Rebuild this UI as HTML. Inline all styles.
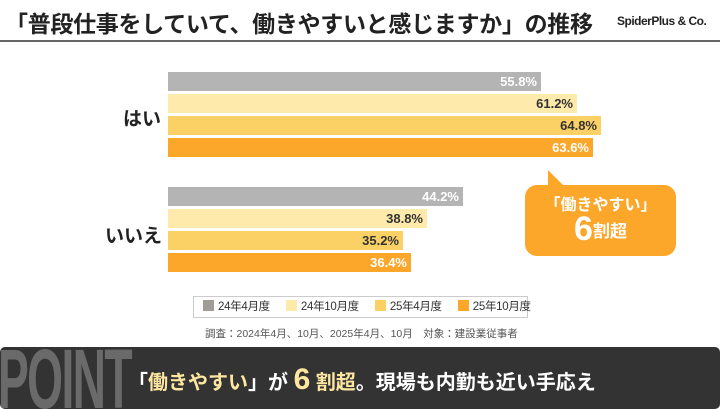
<!DOCTYPE html>
<html><head><meta charset="utf-8"><style>
*{margin:0;padding:0;box-sizing:border-box}
body{width:720px;height:405px;background:#fff;position:relative;overflow:hidden;font-family:"Liberation Sans","Noto Sans CJK JP",sans-serif}
.a{position:absolute}
.bar{position:absolute;left:168px;height:19px;font-weight:bold;font-size:13px;text-align:right;padding-right:4px;line-height:19px}
.lg{display:inline-block;width:11px;height:11px;margin-right:4px;vertical-align:-1px}
.li{display:inline-block;margin-right:16px}
</style></head><body>
<div class="a" style="left:5px;top:5px;font-size:23px;font-weight:bold;color:#222;letter-spacing:-0.3px;white-space:nowrap">「普段仕事をしていて、働きやすいと感じますか」の推移</div>
<div class="a" style="left:617px;top:14px;font-size:12px;font-weight:bold;color:#222;letter-spacing:-0.5px">SpiderPlus &amp; Co.</div>
<div class="a" style="left:0;top:40px;width:720px;height:2px;background:#666"></div>

<div class="a" style="left:123px;top:104px;font-size:19px;font-weight:bold;color:#222">はい</div>
<div class="a" style="left:105px;top:221px;font-size:19px;font-weight:bold;color:#222">いいえ</div>

<div class="bar" style="top:72px;width:373px;background:#b4b4b4;color:#fff">55.8%</div>
<div class="bar" style="top:94px;width:409px;background:#feeaaa;color:#333">61.2%</div>
<div class="bar" style="top:116px;width:433px;background:#fbd166;color:#333">64.8%</div>
<div class="bar" style="top:138px;width:425px;background:#fca62a;color:#fff">63.6%</div>
<div class="bar" style="top:187px;width:295px;background:#b4b4b4;color:#fff">44.2%</div>
<div class="bar" style="top:209px;width:259px;background:#feeaaa;color:#333">38.8%</div>
<div class="bar" style="top:231px;width:235px;background:#fbd166;color:#333">35.2%</div>
<div class="bar" style="top:253px;width:243px;background:#fca62a;color:#fff">36.4%</div>

<svg class="a" style="left:540px;top:168px" width="30" height="22"><polygon points="8,2 8,22 28,22" fill="#fca62a"/></svg>
<div class="a" style="left:525px;top:185px;width:151px;height:71px;background:#fca62a;border-radius:12px;color:#fff;text-align:center;font-weight:bold">
<div style="font-size:16px;margin-top:6px">「働きやすい」</div>
<div style="font-size:17px;margin-top:-4px;line-height:36px"><span style="font-size:34px;vertical-align:-3px">6</span>割超</div></div>

<div class="a" style="left:193px;top:296px;width:335px;height:22px;border:1px solid #ccc;font-size:11.5px;color:#333;line-height:20px;white-space:nowrap;padding-left:9px;letter-spacing:-0.3px">
<span class="li"><span class="lg" style="background:#a09c98"></span>24年4月度</span><span class="li"><span class="lg" style="background:#feeaaa"></span>24年10月度</span><span class="li"><span class="lg" style="background:#fbd166"></span>25年4月度</span><span class="li" style="margin-right:0"><span class="lg" style="background:#fca62a"></span>25年10月度</span></div>
<div class="a" style="left:205px;top:326px;font-size:10.5px;color:#555;white-space:nowrap">調査：2024年4月、10月、2025年4月、10月　対象：建設業従事者</div>

<div class="a" style="left:0;top:347px;width:720px;height:62px;background:#333;border-radius:5px;overflow:hidden">
<div class="a" style="left:-2px;top:-10px;font-size:84px;font-weight:bold;color:#6a6a6a;transform:scaleX(0.55);transform-origin:left top;letter-spacing:-3px;line-height:1">POINT</div>
<div class="a" style="left:128px;top:19px;font-size:20px;font-weight:bold;color:#fff;white-space:nowrap">「<span style="color:#fde6a0">働きやすい</span>」が <span style="color:#fde6a0;font-size:30px;line-height:0">6</span> <span style="color:#fde6a0">割超</span>。現場も内勤も近い手応え</div>
</div>
</body></html>
